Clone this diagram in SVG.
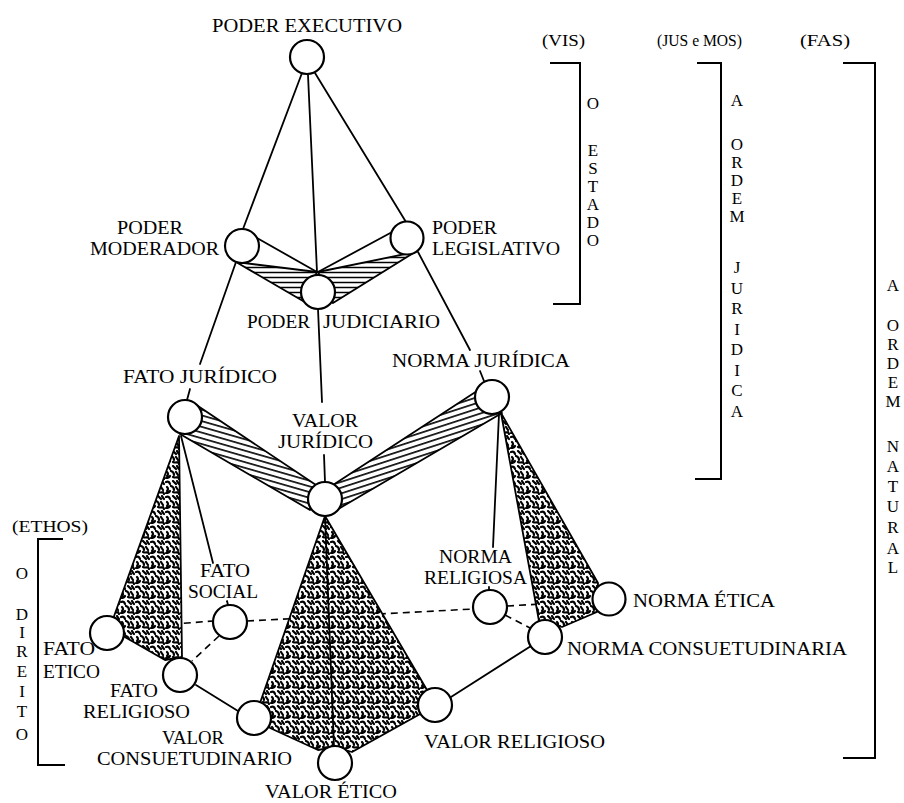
<svg xmlns="http://www.w3.org/2000/svg" width="904" height="803" viewBox="0 0 904 803">
<style>
text{font-family:"Liberation Serif","Times New Roman",serif;font-size:19px;fill:#000}
.hd{font-size:17px}
.col{font-size:17px;text-anchor:middle}
.ln{stroke:#000;stroke-width:1.8;fill:none;stroke-linecap:round}
.dash{stroke:#000;stroke-width:1.6;fill:none;stroke-dasharray:7 5}
.nd{fill:#fff;stroke:#000;stroke-width:2.2}
.br{stroke:#000;stroke-width:2;fill:none}
.sp{fill:url(#speck);stroke:#000;stroke-width:1.8;stroke-linejoin:round}
.ht{stroke:#000;stroke-width:1.8;stroke-linejoin:round}
</style>
<defs>
<pattern id="hh" width="10" height="5" patternUnits="userSpaceOnUse">
<rect width="10" height="5" fill="#fff"/>
<line x1="0" y1="2.5" x2="10" y2="2.5" stroke="#000" stroke-width="1.5"/>
</pattern>
<pattern id="hd1" width="10" height="5.5" patternUnits="userSpaceOnUse" patternTransform="rotate(16)">
<rect width="10" height="5.5" fill="#fff"/>
<line x1="0" y1="2.7" x2="10" y2="2.7" stroke="#000" stroke-width="1.6"/>
</pattern>
<pattern id="hd2" width="10" height="5.5" patternUnits="userSpaceOnUse" patternTransform="rotate(-18)">
<rect width="10" height="5.5" fill="#fff"/>
<line x1="0" y1="2.7" x2="10" y2="2.7" stroke="#000" stroke-width="1.6"/>
</pattern>
<pattern id="speck" width="15" height="15" patternUnits="userSpaceOnUse">
<rect width="15" height="15" fill="#fff"/>
<path d="M1 2q3-1 4 2M8 1l3 3M2 7q2 2 0 4M6 6q3 1 3 4M11 7l2 3M1 13q3 0 4-2M8 12q2 1 5 0M12 1q1 2 2 3M13 12l1 2" stroke="#000" stroke-width="2.2" fill="none" stroke-linecap="round"/>
</pattern>
</defs>
<rect width="904" height="803" fill="#fff"/>

<g id="brackets">
<path class="br" d="M550,63 H580 V304 H553"/>
<path class="br" d="M697,63 H721 V479 H695"/>
<path class="br" d="M843,63 H875 V758 H843"/>
<path class="br" d="M63,539 H38 V765 H65"/>
<text class="hd" x="542" y="46" textLength="43" lengthAdjust="spacingAndGlyphs">(VIS)</text>
<text class="hd" x="657" y="46" textLength="85" lengthAdjust="spacingAndGlyphs">(JUS e MOS)</text>
<text class="hd" x="800" y="46" textLength="50" lengthAdjust="spacingAndGlyphs">(FAS)</text>
<text class="hd" x="12" y="532" textLength="76" lengthAdjust="spacingAndGlyphs">(ETHOS)</text>

<text class="col" x="593" y="109">O</text>
<text class="col" x="593" y="156">E</text>
<text class="col" x="593" y="174">S</text>
<text class="col" x="593" y="192">T</text>
<text class="col" x="593" y="210">A</text>
<text class="col" x="593" y="228">D</text>
<text class="col" x="593" y="246">O</text>

<text class="col" x="737" y="106">A</text>
<text class="col" x="737" y="150">O</text>
<text class="col" x="737" y="168">R</text>
<text class="col" x="737" y="186">D</text>
<text class="col" x="737" y="204">E</text>
<text class="col" x="737" y="222">M</text>
<text class="col" x="737" y="273">J</text>
<text class="col" x="737" y="294">U</text>
<text class="col" x="737" y="314">R</text>
<text class="col" x="737" y="335">I</text>
<text class="col" x="737" y="355">D</text>
<text class="col" x="737" y="376">I</text>
<text class="col" x="737" y="396">C</text>
<text class="col" x="737" y="417">A</text>

<text class="col" x="893" y="291">A</text>
<text class="col" x="893" y="331">O</text>
<text class="col" x="893" y="350">R</text>
<text class="col" x="893" y="369">D</text>
<text class="col" x="893" y="388">E</text>
<text class="col" x="893" y="407">M</text>
<text class="col" x="893" y="452">N</text>
<text class="col" x="893" y="472">A</text>
<text class="col" x="893" y="492">T</text>
<text class="col" x="893" y="512">U</text>
<text class="col" x="893" y="533">R</text>
<text class="col" x="893" y="554">A</text>
<text class="col" x="893" y="573">L</text>

<text class="col" x="22" y="579">O</text>
<text class="col" x="22" y="620">D</text>
<text class="col" x="22" y="638">I</text>
<text class="col" x="22" y="657">R</text>
<text class="col" x="22" y="677">E</text>
<text class="col" x="22" y="697">I</text>
<text class="col" x="22" y="717">T</text>
<text class="col" x="22" y="740">O</text>
</g>

<g id="connectors">
<line class="dash" x1="124" y1="628" x2="213" y2="621"/>
<line class="dash" x1="219" y1="636" x2="192" y2="661"/>
<line class="dash" x1="247" y1="621" x2="473" y2="609"/>
<line class="dash" x1="507" y1="606" x2="593" y2="601"/>
<line class="dash" x1="505" y1="615" x2="530" y2="628"/>

<polygon class="ht" points="236,262 317,272 303,301" fill="url(#hh)"/>
<polygon class="ht" points="415,252 318,272 333,303" fill="url(#hh)"/>
<polygon class="ht" points="180,434 198,406 316,485 310,510" fill="url(#hd1)"/>
<polygon class="ht" points="502,413 477,391 333,485 340,508" fill="url(#hd2)"/>

<polygon class="sp" points="179,436 113,619 123,636 165,660 182,657"/>
<polygon class="sp" points="325,516 260,703 270,728 318,750 335,747 352,752 422,713 427,690"/>
<polygon class="sp" points="501,413 539,621 562,627 597,612 598,583"/>
<line class="ln" x1="325" y1="516" x2="334" y2="747"/>

<line class="ln" x1="302" y1="73" x2="243" y2="229"/>
<line class="ln" x1="308" y1="75" x2="317" y2="272"/>
<line class="ln" x1="315" y1="73" x2="406" y2="222"/>
<line class="ln" x1="257" y1="238" x2="317" y2="272"/>
<line class="ln" x1="394" y1="231" x2="318" y2="272"/>
<line class="ln" x1="236" y1="262" x2="200" y2="364"/>
<line class="ln" x1="190" y1="389" x2="187" y2="400"/>
<line class="ln" x1="318" y1="309" x2="322" y2="402"/>
<line class="ln" x1="324" y1="455" x2="325" y2="482"/>
<line class="ln" x1="418" y1="252" x2="470" y2="350"/>
<line class="ln" x1="480" y1="371" x2="484" y2="381"/>
<line class="ln" x1="181" y1="436" x2="213" y2="563"/>
<line class="ln" x1="227" y1="601" x2="228" y2="605"/>
<line class="ln" x1="499" y1="414" x2="493" y2="547"/>
<line class="ln" x1="489" y1="587" x2="489" y2="590"/>
<line class="ln" x1="196" y1="685" x2="238" y2="711"/>
<line class="ln" x1="531" y1="646" x2="451" y2="697"/>
</g>

<g id="poder-executivo"><circle class="nd" cx="307" cy="57" r="17"/><text x="212" y="32" textLength="190" lengthAdjust="spacingAndGlyphs">PODER EXECUTIVO</text></g>
<g id="poder-moderador"><circle class="nd" cx="242" cy="246" r="17"/><text x="117" y="234" textLength="66" lengthAdjust="spacingAndGlyphs">PODER</text><text x="90" y="255" textLength="129" lengthAdjust="spacingAndGlyphs">MODERADOR</text></g>
<g id="poder-legislativo"><circle class="nd" cx="407" cy="238" r="16.5"/><text x="432" y="234" textLength="65" lengthAdjust="spacingAndGlyphs">PODER</text><text x="432" y="255" textLength="128" lengthAdjust="spacingAndGlyphs">LEGISLATIVO</text></g>
<g id="poder-judiciario"><circle class="nd" cx="318" cy="292" r="17"/><text y="328"><tspan x="247" textLength="63" lengthAdjust="spacingAndGlyphs">PODER</tspan><tspan x="323" textLength="117" lengthAdjust="spacingAndGlyphs">JUDICIARIO</tspan></text></g>
<g id="fato-juridico"><circle class="nd" cx="185" cy="417" r="17"/><text x="123" y="383" textLength="154" lengthAdjust="spacingAndGlyphs">FATO JURÍDICO</text></g>
<g id="norma-juridica"><circle class="nd" cx="492" cy="397" r="17"/><text x="392" y="367" textLength="178" lengthAdjust="spacingAndGlyphs">NORMA JURÍDICA</text></g>
<g id="valor-juridico"><circle class="nd" cx="325" cy="499" r="17"/><text x="292" y="427" textLength="66" lengthAdjust="spacingAndGlyphs">VALOR</text><text x="278" y="448" textLength="95" lengthAdjust="spacingAndGlyphs">JURÍDICO</text></g>
<g id="fato-social"><circle class="nd" cx="230" cy="622" r="17"/><text x="200" y="577" textLength="50" lengthAdjust="spacingAndGlyphs">FATO</text><text x="188" y="598" textLength="70" lengthAdjust="spacingAndGlyphs">SOCIAL</text></g>
<g id="fato-etico"><circle class="nd" cx="107" cy="633" r="17"/><text x="43" y="655" textLength="52" lengthAdjust="spacingAndGlyphs">FATO</text><text x="43" y="678" textLength="57" lengthAdjust="spacingAndGlyphs">ETICO</text></g>
<g id="fato-religioso"><circle class="nd" cx="180" cy="675" r="17"/><text x="110" y="697" textLength="48" lengthAdjust="spacingAndGlyphs">FATO</text><text x="83" y="718" textLength="107" lengthAdjust="spacingAndGlyphs">RELIGIOSO</text></g>
<g id="valor-consuetudinario"><circle class="nd" cx="254" cy="718" r="17"/><text x="162" y="744" textLength="62" lengthAdjust="spacingAndGlyphs">VALOR</text><text x="97" y="765" textLength="195" lengthAdjust="spacingAndGlyphs">CONSUETUDINARIO</text></g>
<g id="valor-etico"><circle class="nd" cx="335" cy="763" r="17"/><text x="265" y="798" textLength="132" lengthAdjust="spacingAndGlyphs">VALOR ÉTICO</text></g>
<g id="valor-religioso"><circle class="nd" cx="435" cy="705" r="17"/><text x="424" y="748" textLength="181" lengthAdjust="spacingAndGlyphs">VALOR RELIGIOSO</text></g>
<g id="norma-religiosa"><circle class="nd" cx="490" cy="607" r="17"/><text x="439" y="563" textLength="73" lengthAdjust="spacingAndGlyphs">NORMA</text><text x="424" y="584" textLength="103" lengthAdjust="spacingAndGlyphs">RELIGIOSA</text></g>
<g id="norma-consuetudinaria"><circle class="nd" cx="545" cy="637" r="17"/><text x="567" y="655" textLength="280" lengthAdjust="spacingAndGlyphs">NORMA CONSUETUDINARIA</text></g>
<g id="norma-etica"><circle class="nd" cx="609" cy="599" r="16.5"/><text x="633" y="607" textLength="142" lengthAdjust="spacingAndGlyphs">NORMA ÉTICA</text></g>
</svg>
